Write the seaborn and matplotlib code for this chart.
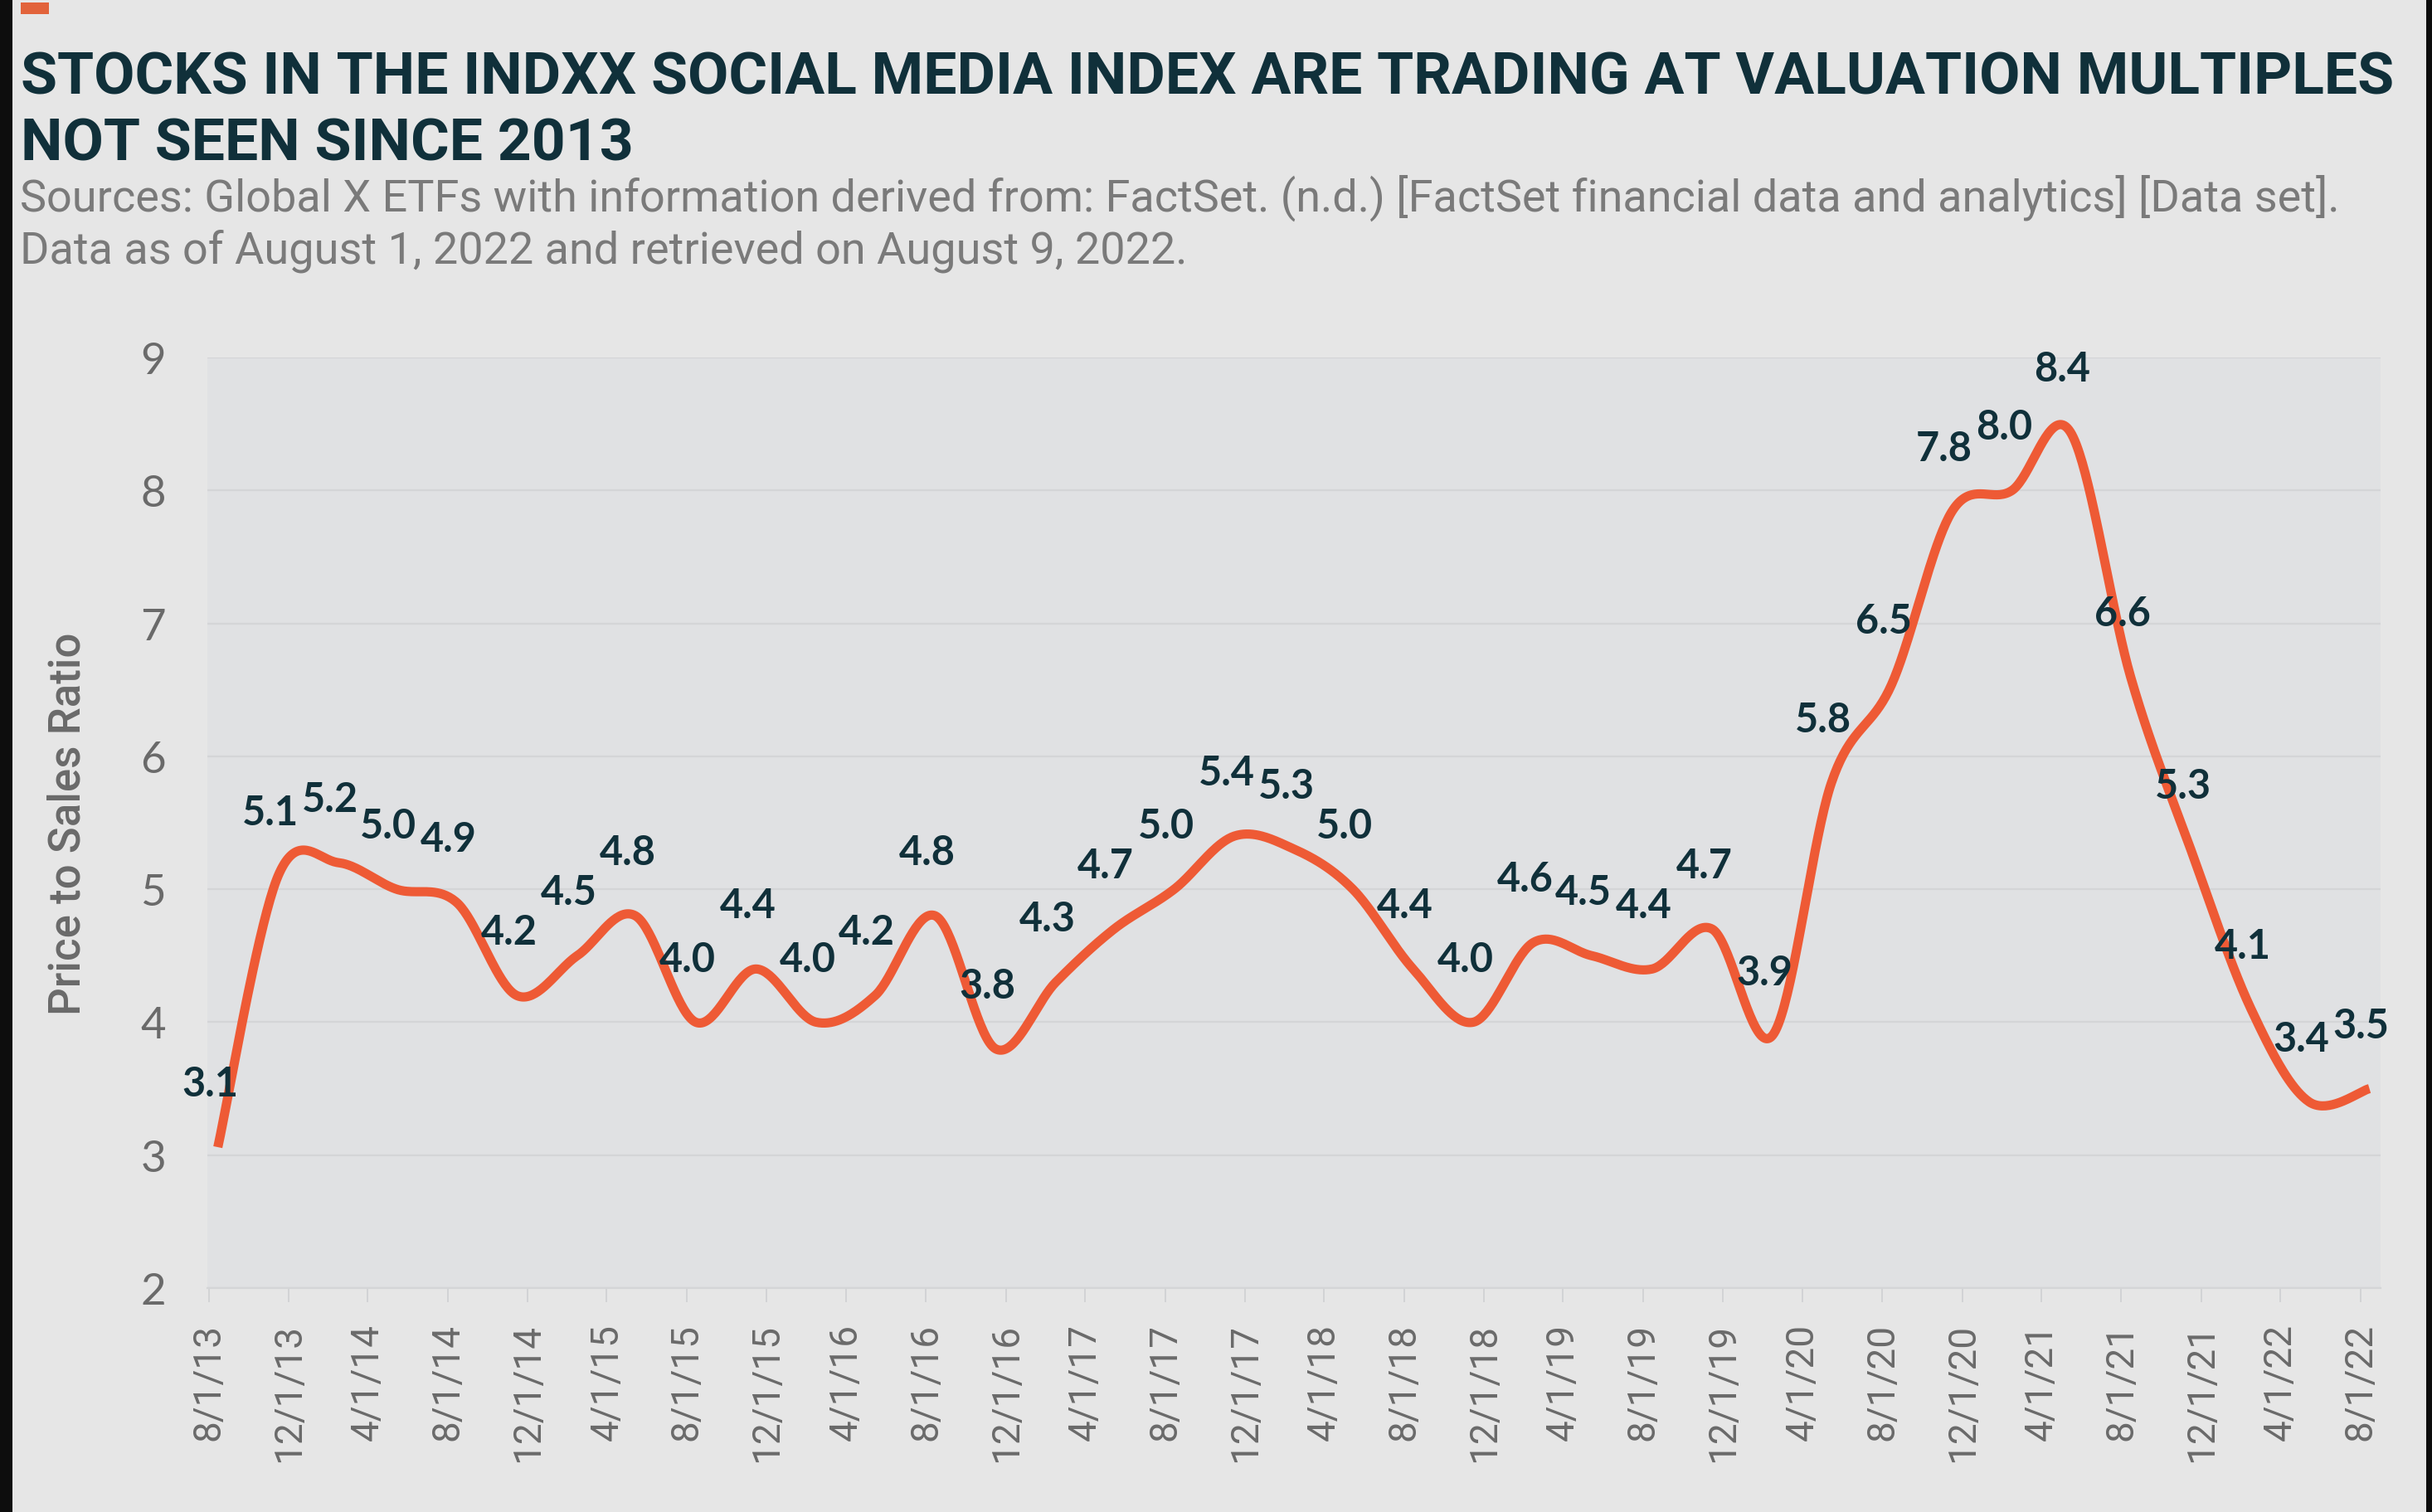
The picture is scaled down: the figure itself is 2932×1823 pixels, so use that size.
import numpy as np
import pandas as pd
import matplotlib
matplotlib.use("Agg")
import matplotlib.pyplot as plt
import matplotlib.dates as mdates
from matplotlib.patches import Rectangle
import seaborn as sns

# ---------------- data ----------------
start_date = "2013-08-15"
n_points = 37
ps_ratio = [3.06, 5.1, 5.2, 5.0, 4.9, 4.2, 4.5, 4.8, 4.0, 4.4, 4.0, 4.2, 4.8, 3.8,
            4.3, 4.7, 5.0, 5.4, 5.3, 5.0, 4.4, 4.0, 4.6, 4.5, 4.4, 4.7, 3.9, 5.8,
            6.54, 7.84, 8.0, 8.44, 6.6, 5.3, 4.1, 3.4, 3.5]
tick_start = "2013-08-01"
tick_end = "2022-08-01"

title_lines = ["STOCKS IN THE INDXX SOCIAL MEDIA INDEX ARE TRADING AT VALUATION MULTIPLES",
               "NOT SEEN SINCE 2013"]
subtitle_lines = ["Sources: Global X ETFs with information derived from: FactSet. (n.d.) [FactSet financial data and analytics] [Data set].",
                  "Data as of August 1, 2022 and retrieved on August 9, 2022."]
y_label = "Price to Sales Ratio"

# ---------------- style ----------------
FIG_BG = "#e6e6e6"
AX_BG = "#e0e1e3"
GRID = "#d4d5d7"
LINE = "#ee5a35"
NAVY = "#10303a"
GRAY_TXT = "#6a6a6a"
SUB_TXT = "#7a7a7a"

sns.set_theme(style="white")
plt.rcParams["font.family"] = ["Lato", "DejaVu Sans"]
NARROW = ["Liberation Sans Narrow", "Roboto", "DejaVu Sans"]

W, H, DPI = 2932, 1824, 200
fig = plt.figure(figsize=(W / DPI, H / DPI), dpi=DPI, facecolor=FIG_BG)
L, R, T, B = 250, 2870, 432, 1554
ax = fig.add_axes([L / W, 1 - B / H, (R - L) / W, (B - T) / H])
ax.set_facecolor(AX_BG)

dates = pd.date_range(start_date, periods=n_points, freq=pd.DateOffset(months=3))
xnum = mdates.date2num(dates.to_pydatetime())
yv = np.asarray(ps_ratio, dtype=float)

# Smoothed line (Catmull-Rom through the data points, like Excel's smoothed line)
px = np.concatenate([[xnum[0]], xnum, [xnum[-1]]])
py = np.concatenate([[yv[0]], yv, [yv[-1]]])
sx, sy = [], []
tt = np.linspace(0, 1, 40, endpoint=False)
for i in range(1, len(px) - 2):
    p0x, p1x, p2x, p3x = px[i - 1], px[i], px[i + 1], px[i + 2]
    p0y, p1y, p2y, p3y = py[i - 1], py[i], py[i + 1], py[i + 2]
    for t in tt:
        t2, t3 = t * t, t * t * t
        sx.append(0.5 * ((2 * p1x) + (-p0x + p2x) * t + (2 * p0x - 5 * p1x + 4 * p2x - p3x) * t2 + (-p0x + 3 * p1x - 3 * p2x + p3x) * t3))
        sy.append(0.5 * ((2 * p1y) + (-p0y + p2y) * t + (2 * p0y - 5 * p1y + 4 * p2y - p3y) * t2 + (-p0y + 3 * p1y - 3 * p2y + p3y) * t3))
sx.append(xnum[-1]); sy.append(yv[-1])
curve = pd.DataFrame({"x": sx, "y": sy})
sns.lineplot(data=curve, x="x", y="y", sort=False, estimator=None, ax=ax,
             color=LINE, linewidth=4.0, solid_capstyle="butt")

# data labels
for xi, vi in zip(xnum, yv):
    ax.annotate(f"{vi:.1f}", (xi, vi), xytext=(-3.5, 27.5), textcoords="offset points",
                ha="center", va="center", fontsize=17.5, fontweight="bold", color=NAVY,
                fontfamily=["Lato", "DejaVu Sans"])

# axes
ax.set_ylim(2, 9)
ax.set_yticks(range(2, 10))
ax.set_yticklabels([str(v) for v in range(2, 10)], fontsize=19, color=GRAY_TXT,
                   fontfamily=["Lato", "DejaVu Sans"])
ticks = pd.date_range(tick_start, tick_end, freq="4MS")
ax.set_xticks(mdates.date2num(ticks.to_pydatetime()))
ax.set_xticklabels([f"{d.month}/{d.day}/{d.strftime('%y')}" for d in ticks], rotation=90,
                   fontsize=16.5, color=GRAY_TXT, fontfamily=NARROW)
ax.set_xlim(mdates.date2num(pd.Timestamp("2013-07-30")), mdates.date2num(pd.Timestamp("2022-09-01")))
ax.set_xlabel("")
ax.grid(axis="y", color=GRID, linewidth=0.8)
ax.grid(axis="x", visible=False)
ax.set_axisbelow(True)
for s in ["top", "right", "left"]:
    ax.spines[s].set_visible(False)
ax.spines["bottom"].set_color(GRID)
ax.spines["bottom"].set_linewidth(0.8)
ax.tick_params(axis="x", bottom=True, length=6, width=0.6, color="#cfd0d2", pad=9)
ax.tick_params(axis="y", left=False, length=0, pad=18)

yl = ax.set_ylabel(y_label, fontsize=19, color="#6a6a6a", fontweight="medium",
                   fontfamily=NARROW, va="center")
ax.yaxis.set_label_coords((82 - L) / (R - L), 0.5)

# titles
t1 = fig.text(25 / W, 1 - 113 / H, title_lines[0], fontsize=28, fontweight="bold", color=NAVY,
              fontfamily=NARROW, ha="left", va="baseline")
t2 = fig.text(25 / W, 1 - 193 / H, title_lines[1], fontsize=28, fontweight="bold", color=NAVY,
              fontfamily=NARROW, ha="left", va="baseline")
s1 = fig.text(24 / W, 1 - 255 / H, subtitle_lines[0], fontsize=20, color=SUB_TXT,
              fontfamily=NARROW, ha="left", va="baseline")
s2 = fig.text(24 / W, 1 - 318 / H, subtitle_lines[1], fontsize=20, color=SUB_TXT,
              fontfamily=NARROW, ha="left", va="baseline")

fig.canvas.draw()
rend = fig.canvas.get_renderer()

def fit(txt, target, others=()):
    w = txt.get_window_extent(rend).width
    fs = txt.get_fontsize() * target / w
    txt.set_fontsize(fs)
    for o in others:
        o.set_fontsize(fs)

fit(t1, 2856, [t2])
fit(s1, 2793, [s2])
w_yl = yl.get_window_extent(rend).height
yl.set_fontsize(yl.get_fontsize() * 462 / w_yl)

# decorations
fig.patches.append(Rectangle((25 / W, 1 - 18 / H), 34 / W, 14 / H, transform=fig.transFigure,
                             facecolor="#e2633b", edgecolor="none"))
fig.patches.append(Rectangle((0, 0), 15 / W, 1, transform=fig.transFigure,
                             facecolor="#0d0d0d", edgecolor="none"))
fig.patches.append(Rectangle((1 - 7 / W, 0), 7 / W, 1, transform=fig.transFigure,
                             facecolor="#0d0d0d", edgecolor="none"))

fig.savefig("out.png", dpi=DPI, facecolor=FIG_BG)
